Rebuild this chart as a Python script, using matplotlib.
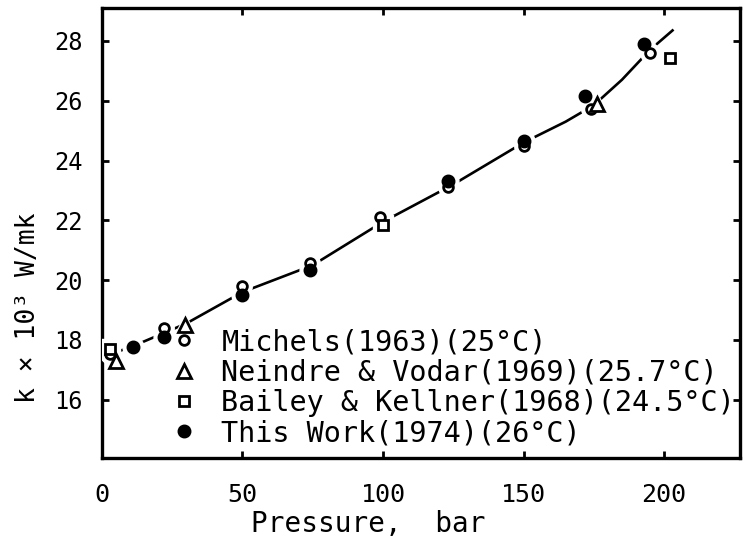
import matplotlib.pyplot as plt

plt.rcParams['font.family'] = ['DejaVu Sans Mono']

# smoothed curve
curve_p = [2, 10, 20, 30, 50, 75, 100, 125, 150, 165, 175, 185, 195, 203]
curve_k = [17.5, 17.75, 18.15, 18.55, 19.6, 20.5, 21.95, 23.2, 24.6, 25.3, 25.85, 26.7, 27.7, 28.35]

michels_p = [3, 22, 50, 74, 99, 123, 150, 174, 195]
michels_k = [17.52, 18.4, 19.8, 20.58, 22.1, 23.1, 24.5, 25.72, 27.6]

neindre_p = [5, 29.5, 176]
neindre_k = [17.3, 18.5, 25.9]

bailey_p = [3, 100, 202]
bailey_k = [17.68, 21.85, 27.42]

thiswork_p = [11, 22, 50, 74, 123, 150, 172, 193]
thiswork_k = [17.75, 18.1, 19.5, 20.35, 23.32, 24.65, 26.15, 27.9]

fig = plt.figure(figsize=(7.47, 5.45), dpi=100)
ax = fig.add_axes([0.1365, 0.1596, 0.8541, 0.8257])

ax.plot(curve_p, curve_k, color='black', lw=1.9, zorder=2)

series = [
    (michels_p, michels_k, 'o', 'white', 7, 'Michels(1963)(25°C)'),
    (neindre_p, neindre_k, '^', 'white', 9.5, 'Neindre & Vodar(1969)(25.7°C)'),
    (bailey_p, bailey_k, 's', 'white', 7.5, 'Bailey & Kellner(1968)(24.5°C)'),
    (thiswork_p, thiswork_k, 'o', 'black', 8, 'This Work(1974)(26°C)'),
]

# white halos so the line breaks around the points
for p, k, m, fc, ms, lab in series:
    ax.plot(p, k, ls='none', marker=m, ms=ms + 7, mfc='white', mec='white', zorder=3)
for p, k, m, fc, ms, lab in series:
    ax.plot(p, k, ls='none', marker=m, ms=ms, mfc=fc, mec='black', mew=2.0,
            zorder=4, label=lab)

ax.set_xlim(0, 227)
ax.set_ylim(14.05, 29.1)
ax.set_xticks([0, 50, 100, 150, 200])
ax.set_yticks([16, 18, 20, 22, 24, 26, 28])

ax.tick_params(direction='in', length=5, width=2, top=True, right=True)
ax.tick_params(axis='x', labelsize=18, pad=18)
ax.tick_params(axis='y', labelsize=17, pad=14)
for s in ax.spines.values():
    s.set_linewidth(2.4)

ax.set_xlabel('Pressure,  bar', fontsize=20)
ax.xaxis.set_label_coords(0.418, -0.115)
ax.set_ylabel('k × 10³ W/mk', fontsize=19)
ax.yaxis.set_label_coords(-0.095, 0.335)

ax.legend(loc='lower left', bbox_to_anchor=(0.08, -0.02), frameon=False,
          fontsize=20.5, handlelength=0.8, handletextpad=0.9,
          labelspacing=0.08, borderpad=0.2)

fig.savefig('out.png', dpi=100)
